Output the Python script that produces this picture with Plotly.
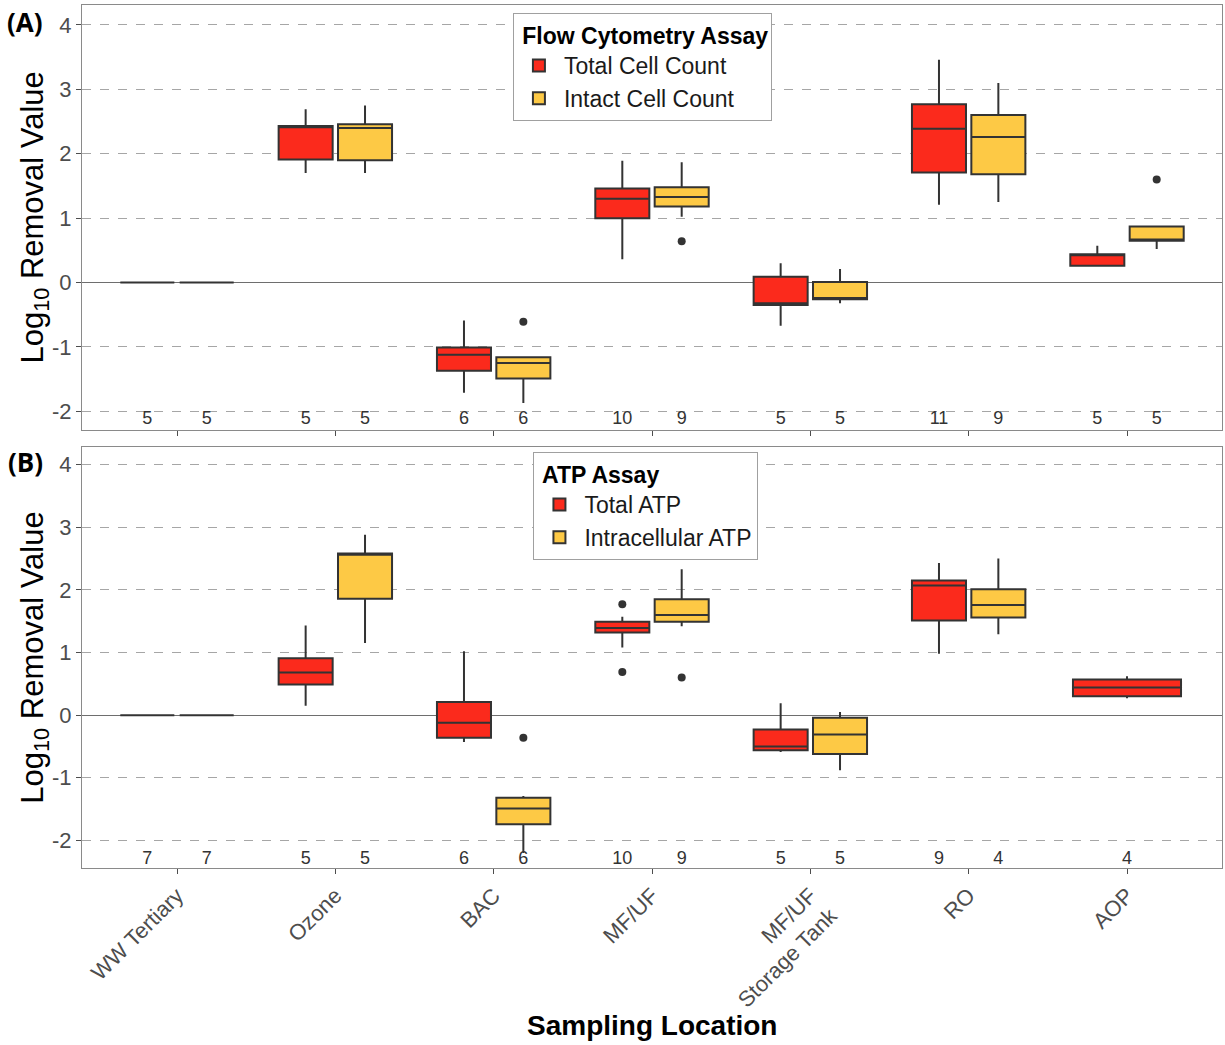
import plotly.graph_objects as go

locations = ["WW Tertiary", "Ozone", "BAC", "MF/UF", "MF/UF<br>Storage Tank", "RO", "AOP"]

# Panel A: Flow cytometry
tcc_lo  = [0, 1.70, -1.71, 0.36, -0.67, 1.21, 0.26]
tcc_q1  = [0, 1.91, -1.37, 1.00, -0.35, 1.71, 0.26]
tcc_med = [0, 2.41, -1.12, 1.30, -0.32, 2.39, 0.43]
tcc_q3  = [0, 2.43, -1.01, 1.46, 0.09, 2.77, 0.44]
tcc_hi  = [0, 2.69, -0.59, 1.89, 0.30, 3.46, 0.57]
tcc_n   = [5, 5, 6, 10, 5, 11, 5]

icc_lo  = [0, 1.70, -1.87, 1.02, -0.32, 1.25, 0.52]
icc_q1  = [0, 1.90, -1.49, 1.18, -0.26, 1.68, 0.65]
icc_med = [0, 2.40, -1.25, 1.33, -0.24, 2.26, 0.67]
icc_q3  = [0, 2.46, -1.16, 1.48, 0.01, 2.60, 0.87]
icc_hi  = [0, 2.75, -1.15, 1.87, 0.21, 3.10, 0.87]
icc_n   = [5, 5, 6, 9, 5, 9, 5]
icc_out_x = ["BAC", "MF/UF", "AOP"]
icc_out_y = [-0.61, 0.64, 1.60]

# Panel B: ATP
tatp_lo  = [0, 0.15, -0.43, 1.08, -0.59, 0.98, 0.27]
tatp_q1  = [0, 0.49, -0.36, 1.32, -0.56, 1.51, 0.30]
tatp_med = [0, 0.68, -0.12, 1.39, -0.50, 2.07, 0.44]
tatp_q3  = [0, 0.91, 0.21, 1.49, -0.23, 2.15, 0.57]
tatp_hi  = [0, 1.43, 1.02, 1.57, 0.19, 2.43, 0.62]
tatp_n   = [7, 5, 6, 10, 5, 9, 4]
tatp_out_x = ["MF/UF", "MF/UF"]
tatp_out_y = [1.77, 0.69]

iatp_lo  = [0, 1.15, -2.20, 1.42, -0.88, 1.29]
iatp_q1  = [0, 1.86, -1.74, 1.49, -0.62, 1.56]
iatp_med = [0, 2.56, -1.49, 1.60, -0.31, 1.76]
iatp_q3  = [0, 2.58, -1.32, 1.85, -0.04, 2.01]
iatp_hi  = [0, 2.88, -1.29, 2.33, 0.05, 2.50]
iatp_n   = [7, 5, 6, 9, 5, 4]
iatp_out_x = ["BAC", "MF/UF"]
iatp_out_y = [-0.36, 0.60]

RED = "#fb2a1c"
YEL = "#fdc945"
EDGE = "#333333"
FONT = "Liberation Sans"

fig = go.Figure()

def box(name, x, lo, q1, med, q3, hi, color, og, ag, xa, ya, legend, showlegend=True):
    fig.add_trace(go.Box(
        name=name, x=x, q1=q1, median=med, q3=q3, lowerfence=lo, upperfence=hi,
        fillcolor=color, line=dict(color=EDGE, width=2), whiskerwidth=0,
        offsetgroup=og, alignmentgroup=ag, xaxis=xa, yaxis=ya,
        legend=legend, showlegend=showlegend, hoverinfo="skip"))

def txt(x, n, yv, og, ag, xa, ya):
    fig.add_trace(go.Scatter(
        x=x, y=[yv] * len(x), text=[str(v) for v in n], mode="text",
        textfont=dict(family=FONT, size=18, color="#333333"),
        offsetgroup=og, alignmentgroup=ag, xaxis=xa, yaxis=ya,
        showlegend=False, hoverinfo="skip"))

def pts(x, y, og, ag, xa, ya):
    fig.add_trace(go.Scatter(
        x=x, y=y, mode="markers", marker=dict(color="#333333", size=8),
        offsetgroup=og, alignmentgroup=ag, xaxis=xa, yaxis=ya,
        showlegend=False, hoverinfo="skip"))

# Panel A
box("Total Cell Count", locations, tcc_lo, tcc_q1, tcc_med, tcc_q3, tcc_hi, RED, "r", "a", "x", "y", "legend")
box("Intact Cell Count", locations, icc_lo, icc_q1, icc_med, icc_q3, icc_hi, YEL, "y", "a", "x", "y", "legend")
pts(icc_out_x, icc_out_y, "y", "a", "x", "y")
pts([locations[0]], [None], "r", "a", "x", "y")
txt(locations, tcc_n, -2.12, "r", "a", "x", "y")
txt(locations, icc_n, -2.12, "y", "a", "x", "y")

# Panel B
loc6 = locations[:6]
box("Total ATP", loc6, tatp_lo[:6], tatp_q1[:6], tatp_med[:6], tatp_q3[:6], tatp_hi[:6], RED, "r", "b", "x2", "y2", "legend2")
box("Intracellular ATP", loc6, iatp_lo, iatp_q1, iatp_med, iatp_q3, iatp_hi, YEL, "y", "b", "x2", "y2", "legend2")
box("Total ATP", locations[6:], tatp_lo[6:], tatp_q1[6:], tatp_med[6:], tatp_q3[6:], tatp_hi[6:], RED, "s", "c", "x2", "y2", "legend2", showlegend=False)
pts(tatp_out_x, tatp_out_y, "r", "b", "x2", "y2")
pts(iatp_out_x, iatp_out_y, "y", "b", "x2", "y2")
txt(loc6, tatp_n[:6], -2.3, "r", "b", "x2", "y2")
txt(loc6, iatp_n, -2.3, "y", "b", "x2", "y2")
txt(locations[6:], tatp_n[6:], -2.3, "s", "c", "x2", "y2")

axis_common = dict(showline=True, linecolor="#8a8a8a", linewidth=1, mirror=True,
                   ticks="outside", ticklen=5, tickcolor="#4d4d4d", automargin=False)
yaxis_common = dict(axis_common, tickvals=[-2, -1, 0, 1, 2, 3, 4],
                    ticktext=["-2", "-1", "0", "1", "2", "3", "4"],
                    tickfont=dict(family=FONT, size=22, color="#4d4d4d"),
                    showgrid=True, gridcolor="#a6a6a6", griddash="dash", gridwidth=1,
                    zeroline=True, zerolinecolor="#6e6e6e", zerolinewidth=1.2)

legend_common = dict(xanchor="left", yanchor="top",
                     bgcolor="white", bordercolor="#a0a0a0", borderwidth=1,
                     font=dict(family=FONT, size=23, color="#1a1a1a"),
                     tracegroupgap=0, itemwidth=40)

fig.update_layout(
    width=1225, height=1045,
    margin=dict(l=82, r=3, t=5, b=177),
    paper_bgcolor="white", plot_bgcolor="white",
    boxmode="group", boxgap=0.25, boxgroupgap=0.09,
    scattermode="group", scattergap=0.25,
    font=dict(family=FONT),
    xaxis=dict(axis_common, domain=[0, 1], anchor="y", type="category",
               categoryorder="array", categoryarray=locations,
               range=[-0.6, 6.6], showticklabels=False, showgrid=False),
    xaxis2=dict(axis_common, domain=[0, 1], anchor="y2", type="category",
                categoryorder="array", categoryarray=locations,
                range=[-0.6, 6.6], showgrid=False, tickangle=-45,
                tickfont=dict(family=FONT, size=22, color="#4d4d4d")),
    yaxis=dict(yaxis_common, domain=[0.5075, 1.0], anchor="x", range=[-2.29, 4.31]),
    yaxis2=dict(yaxis_common, domain=[0.0, 0.4878], anchor="x2", range=[-2.44, 4.28]),
    legend=dict(legend_common, x=0.378, y=0.9907,
                title=dict(text="<b> Flow Cytometry Assay</b>", font=dict(family=FONT, size=23, color="black"))),
    legend2=dict(legend_common, x=0.396, y=0.482,
                 title=dict(text="<b> ATP Assay</b>", font=dict(family=FONT, size=23, color="black"))),
    annotations=[
        dict(text="<b>(A)</b>", x=-0.05, y=0.980, xref="paper", yref="paper",
             showarrow=False, font=dict(family="Open Sans", size=26, color="black"),
             xanchor="center", yanchor="middle"),
        dict(text="<b>(B)</b>", x=-0.05, y=0.470, xref="paper", yref="paper",
             showarrow=False, font=dict(family="Open Sans", size=26, color="black"),
             xanchor="center", yanchor="middle"),
        dict(text="Log<sub>10</sub> Removal Value", x=-0.041, y=0.754, xref="paper", yref="paper",
             showarrow=False, textangle=-90, font=dict(family=FONT, size=31, color="black"),
             xanchor="center", yanchor="middle"),
        dict(text="Log<sub>10</sub> Removal Value", x=-0.041, y=0.244, xref="paper", yref="paper",
             showarrow=False, textangle=-90, font=dict(family=FONT, size=31, color="black"),
             xanchor="center", yanchor="middle"),
        dict(text="<b>Sampling Location</b>", x=0.5, y=-0.182, xref="paper", yref="paper",
             showarrow=False, font=dict(family=FONT, size=28, color="black"),
             xanchor="center", yanchor="middle"),
    ],
)

fig.write_html("out.html", config={"displayModeBar": False},
               post_script="document.body.style.margin='0';")
